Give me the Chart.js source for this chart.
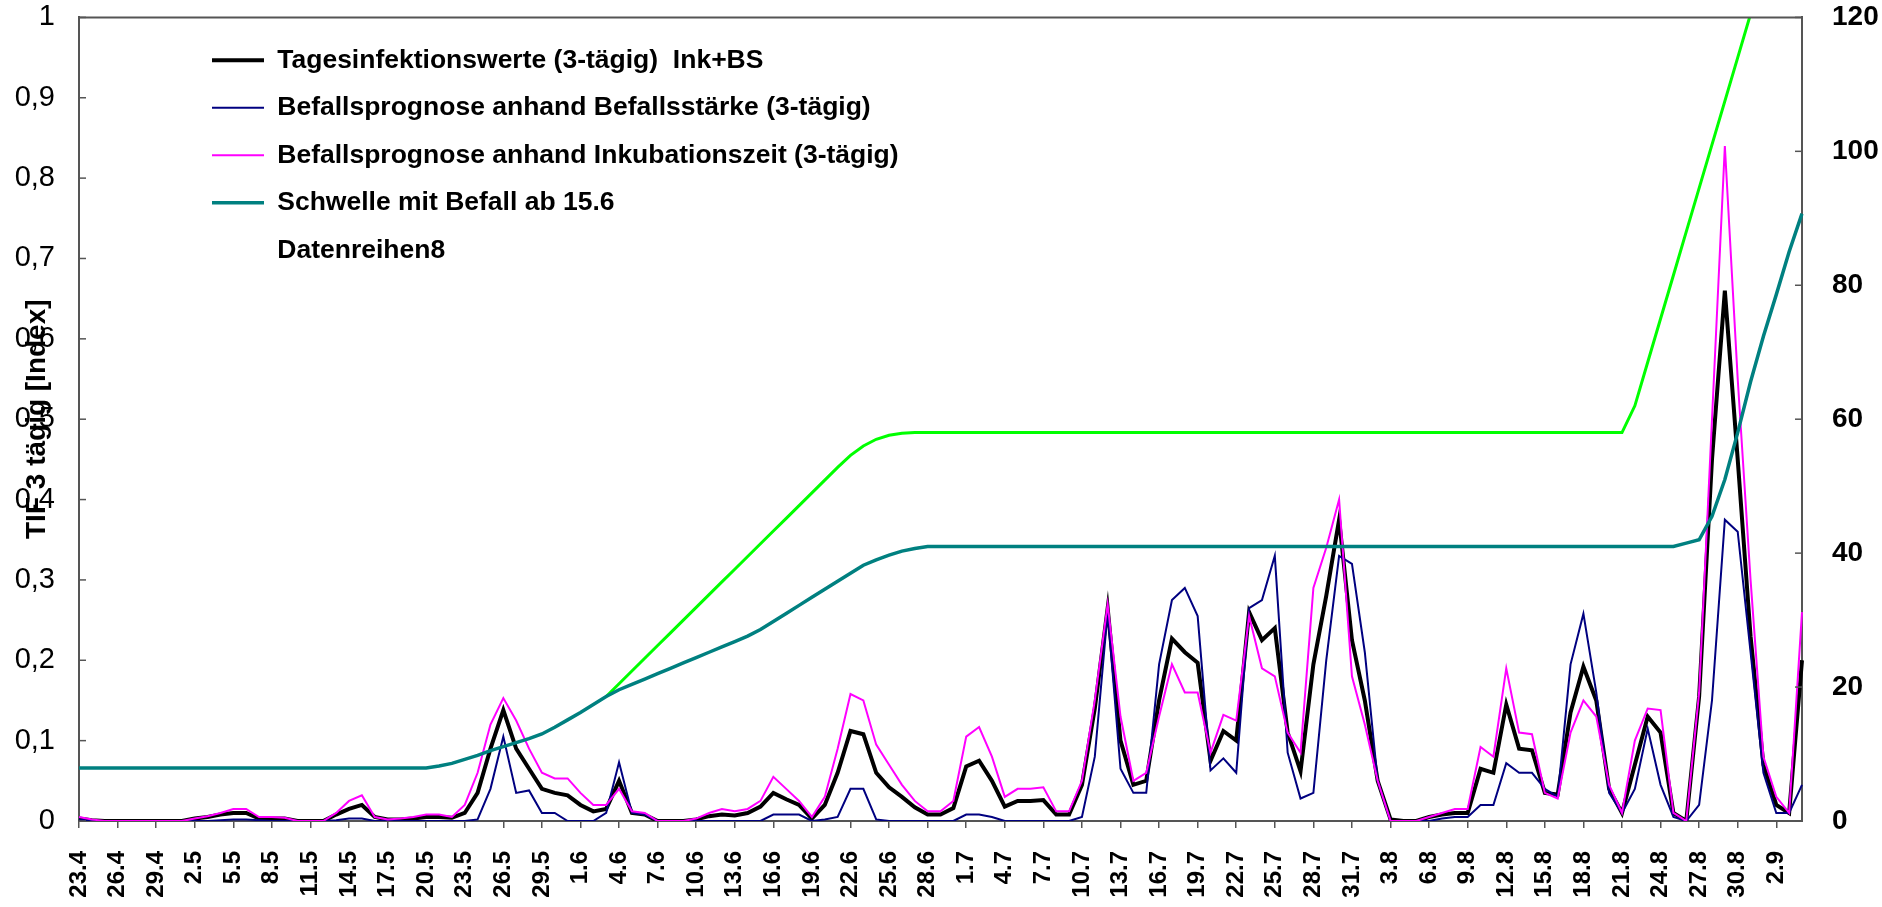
<!DOCTYPE html>
<html>
<head>
<meta charset="utf-8">
<script src="https://cdn.jsdelivr.net/npm/chart.js@4"></script>
<style>
html,body{margin:0;padding:0;background:#ffffff;}
#wrap{width:1882px;height:907px;position:relative;}
</style>
</head>
<body>
<div id="wrap"><canvas id="c" width="1882" height="907"></canvas></div>
<script>
// ---------- DATA ----------
const categories = [
 '23.4','24.4','25.4','26.4','27.4','28.4','29.4','30.4',
 '1.5','2.5','3.5','4.5','5.5','6.5','7.5','8.5','9.5','10.5','11.5','12.5','13.5','14.5','15.5','16.5','17.5','18.5','19.5','20.5','21.5','22.5','23.5','24.5','25.5','26.5','27.5','28.5','29.5','30.5','31.5',
 '1.6','2.6','3.6','4.6','5.6','6.6','7.6','8.6','9.6','10.6','11.6','12.6','13.6','14.6','15.6','16.6','17.6','18.6','19.6','20.6','21.6','22.6','23.6','24.6','25.6','26.6','27.6','28.6','29.6','30.6',
 '1.7','2.7','3.7','4.7','5.7','6.7','7.7','8.7','9.7','10.7','11.7','12.7','13.7','14.7','15.7','16.7','17.7','18.7','19.7','20.7','21.7','22.7','23.7','24.7','25.7','26.7','27.7','28.7','29.7','30.7','31.7',
 '1.8','2.8','3.8','4.8','5.8','6.8','7.8','8.8','9.8','10.8','11.8','12.8','13.8','14.8','15.8','16.8','17.8','18.8','19.8','20.8','21.8','22.8','23.8','24.8','25.8','26.8','27.8','28.8','29.8','30.8','31.8',
 '1.9','2.9','3.9','4.9'
];

// Tagesinfektionswerte (3-tägig) Ink+BS  (left axis)
const tagesinfektion = [
 0.003,0.001,0,0,0,0,0,0,0,0.003,
 0.005,0.008,0.01,0.01,0.003,0.003,0.003,0,0,0,
 0.008,0.015,0.02,0.005,0.002,0.002,0.003,0.005,0.005,0.004,
 0.01,0.035,0.09,0.138,0.09,0.065,0.04,0.035,0.032,0.02,
 0.012,0.015,0.05,0.01,0.008,0,0,0,0.002,0.006,
 0.008,0.007,0.01,0.018,0.035,0.027,0.02,0.003,0.02,0.06,
 0.112,0.108,0.06,0.042,0.03,0.017,0.008,0.008,0.016,0.068,
 0.075,0.05,0.018,0.025,0.025,0.026,0.008,0.008,0.045,0.14,
 0.265,0.1,0.045,0.05,0.15,0.227,0.21,0.197,0.075,0.112,
 0.1,0.26,0.225,0.24,0.11,0.062,0.195,0.28,0.375,0.225,
 0.15,0.05,0.002,0,0,0.005,0.008,0.01,0.01,0.065,
 0.06,0.145,0.09,0.088,0.035,0.033,0.135,0.192,0.15,0.04,
 0.01,0.07,0.13,0.11,0.01,0,0.155,0.45,0.66,0.45,
 0.23,0.07,0.02,0.01,0.2
];

// Befallsprognose anhand Befallsstärke (3-tägig)  (left axis)
const befallStaerke = [
 0.002,0,0,0,0,0,0,0,0,0,
 0,0.001,0.002,0.002,0.001,0,0,0,0,0,
 0.001,0.003,0.003,0,0,0,0,0,0,0,
 0,0.002,0.04,0.105,0.035,0.038,0.01,0.01,0,0,
 0,0.01,0.073,0.01,0.008,0,0,0,0,0,
 0,0,0,0,0.008,0.008,0.008,0,0.002,0.005,
 0.04,0.04,0.002,0,0,0,0,0,0,0.008,
 0.008,0.005,0,0,0,0,0,0,0.005,0.08,
 0.26,0.065,0.035,0.035,0.195,0.275,0.29,0.255,0.063,0.078,
 0.06,0.265,0.275,0.33,0.085,0.028,0.035,0.2,0.33,0.32,
 0.21,0.05,0,0,0,0,0.003,0.005,0.005,0.02,
 0.02,0.072,0.06,0.06,0.04,0.03,0.195,0.258,0.16,0.035,
 0.01,0.04,0.115,0.045,0.005,0,0.02,0.15,0.375,0.36,
 0.21,0.06,0.01,0.01,0.045
];

// Befallsprognose anhand Inkubationszeit (3-tägig)  (left axis)
const befallInkubation = [
 0.005,0.002,0,0,0,0,0,0,0,0.003,
 0.006,0.01,0.015,0.015,0.005,0.005,0.004,0,0,0,
 0.01,0.025,0.032,0.005,0.002,0.003,0.005,0.008,0.008,0.005,
 0.02,0.06,0.12,0.153,0.125,0.09,0.06,0.053,0.053,0.035,
 0.02,0.02,0.04,0.012,0.01,0,0,0,0.003,0.01,
 0.015,0.012,0.015,0.025,0.055,0.04,0.025,0.005,0.03,0.09,
 0.158,0.15,0.095,0.07,0.045,0.025,0.012,0.012,0.025,0.105,
 0.117,0.08,0.03,0.04,0.04,0.042,0.012,0.012,0.05,0.15,
 0.27,0.13,0.05,0.06,0.13,0.195,0.16,0.16,0.085,0.132,
 0.125,0.255,0.19,0.18,0.11,0.085,0.29,0.34,0.4,0.18,
 0.12,0.05,0,0,0,0.005,0.01,0.015,0.015,0.092,
 0.08,0.19,0.11,0.108,0.035,0.028,0.11,0.15,0.13,0.045,
 0.01,0.1,0.14,0.138,0.01,0,0.16,0.5,0.84,0.55,
 0.3,0.08,0.03,0.01,0.26
];

// Schwelle mit Befall ab 15.6  (right axis)
const schwelle = [
 7.9,7.9,7.9,7.9,7.9,7.9,7.9,7.9,7.9,7.9,
 7.9,7.9,7.9,7.9,7.9,7.9,7.9,7.9,7.9,7.9,
 7.9,7.9,7.9,7.9,7.9,7.9,7.9,7.9,8.2,8.6,
 9.2,9.8,10.5,11.1,11.7,12.3,13.0,14.0,15.1,16.2,
 17.4,18.6,19.6,20.4,21.2,22.0,22.8,23.6,24.4,25.2,
 26.0,26.8,27.6,28.6,29.8,31.0,32.2,33.4,34.6,35.8,
 37.0,38.2,39.0,39.7,40.3,40.7,41,41,41,41,
 41,41,41,41,41,41,41,41,41,41,
 41,41,41,41,41,41,41,41,41,41,
 41,41,41,41,41,41,41,41,41,41,
 41,41,41,41,41,41,41,41,41,41,
 41,41,41,41,41,41,41,41,41,41,
 41,41,41,41,41,41.5,42,45.5,51,58,
 65.6,72.4,78.6,85,90.7
];

// green threshold line (right axis, not in legend)
const schwelleGruen = [
 null,null,null,null,null,null,null,null,null,null,
 null,null,null,null,null,null,null,null,null,null,
 null,null,null,null,null,null,null,null,null,null,
 null,null,null,null,null,null,null,null,null,null,
 null,18.6,20.5,22.4,24.3,26.2,28.1,30.0,31.9,33.8,
 35.7,37.6,39.5,41.4,43.3,45.2,47.1,49.0,50.9,52.8,
 54.6,56.0,57.0,57.6,57.9,58,58,58,58,58,
 58,58,58,58,58,58,58,58,58,58,
 58,58,58,58,58,58,58,58,58,58,
 58,58,58,58,58,58,58,58,58,58,
 58,58,58,58,58,58,58,58,58,58,
 58,58,58,58,58,58,58,58,58,58,
 58,62,68.5,75,81.5,88,94.5,101,107.5,114,
 120.5,127,133.5,140,146.5
];

// series 8 (empty, only in legend)
const datenreihen8 = categories.map(() => null);

const leftTicks = { min: 0, max: 1, step: 0.1 };
const rightTicks = { min: 0, max: 120, step: 20 };

// ---------- PLUGINS ----------
const AXIS = '#555555';
const legendShift = {
  id: 'legendShift',
  afterLayout(chart) {
    const l = chart.legend;
    if (!l) return;
    const dx = 112, dy = 26;
    l.left += dx; l.right += dx; l.top += dy; l.bottom += dy;
  }
};
const frameAndTicks = {
  id: 'frameAndTicks',
  afterDatasetsDraw(chart) {
    const {ctx, chartArea: a} = chart;
    ctx.save();
    ctx.strokeStyle = AXIS;
    ctx.lineWidth = 2;
    ctx.beginPath();
    ctx.moveTo(a.left - 1, a.top);
    ctx.lineTo(a.right + 1, a.top);
    ctx.stroke();
    ctx.lineWidth = 1.5;
    ['y', 'y2'].forEach((id) => {
      const s = chart.scales[id];
      const left = s.position === 'left';
      const x0 = left ? s.right : s.left;
      const dir = left ? 1 : -1;
      s.ticks.forEach((t, i) => {
        const y = s.getPixelForTick(i);
        ctx.beginPath();
        ctx.moveTo(x0, y);
        ctx.lineTo(x0 + dir * 7, y);
        ctx.stroke();
      });
    });
    ctx.restore();
  }
};

const FONT = "'Liberation Sans', Arial, sans-serif";

new Chart(document.getElementById('c'), {
  type: 'line',
  data: {
    labels: categories,
    datasets: [
      { label: 'Tagesinfektionswerte (3-tägig)  Ink+BS', data: tagesinfektion, borderColor: '#000000', backgroundColor: '#000000', borderWidth: 4, yAxisID: 'y', order: 6 },
      { label: 'Befallsprognose anhand Befallsstärke (3-tägig)', data: befallStaerke, borderColor: '#000080', backgroundColor: '#000080', borderWidth: 2, yAxisID: 'y', order: 5 },
      { label: 'Befallsprognose anhand Inkubationszeit (3-tägig)', data: befallInkubation, borderColor: '#FF00FF', backgroundColor: '#FF00FF', borderWidth: 2, yAxisID: 'y', order: 4 },
      { label: 'Schwelle mit Befall ab 15.6', data: schwelle, borderColor: '#008080', backgroundColor: '#008080', borderWidth: 3.5, yAxisID: 'y2', order: 2 },
      { label: 'Datenreihen8', data: datenreihen8, borderColor: '#FFFFFF', backgroundColor: '#FFFFFF', borderWidth: 2, yAxisID: 'y', order: 1 },
      { label: 'Schwelle (grün)', data: schwelleGruen, borderColor: '#00FF00', backgroundColor: '#00FF00', borderWidth: 3, yAxisID: 'y2', order: 3 }
    ]
  },
  options: {
    responsive: false,
    animation: false,
    devicePixelRatio: 1,
    layout: { padding: { top: 17, left: 0, right: 0, bottom: 0 } },
    elements: { point: { radius: 0, hoverRadius: 0 }, line: { tension: 0 } },
    plugins: {
      tooltip: { enabled: false },
      legend: {
        position: 'chartArea',
        align: 'start',
        labels: {
          usePointStyle: true,
          pointStyle: 'line',
          pointStyleWidth: 52,
          padding: 21,
          color: '#000000',
          font: { family: FONT, size: 26.5, weight: 'bold' },
          filter: (item) => item.datasetIndex !== 5,
          sort: (a, b) => a.datasetIndex - b.datasetIndex
        }
      }
    },
    scales: {
      x: {
        type: 'category',
        offset: false,
        grid: {
          drawOnChartArea: false,
          drawTicks: true,
          tickLength: 7,
          lineWidth: 1.5,
          color: (c) => (c.index % 3 === 0 ? AXIS : 'rgba(0,0,0,0)')
        },
        border: { display: true, color: AXIS, width: 2 },
        ticks: {
          autoSkip: false,
          maxRotation: 90,
          minRotation: 90,
          padding: 23,
          color: '#000000',
          font: { family: FONT, size: 24, weight: 'bold' },
          callback: (v, i) => (i % 3 === 0 ? categories[i] : '')
        },
        afterFit: (s) => { s.height = 86; }
      },
      y: {
        position: 'left',
        min: leftTicks.min,
        max: leftTicks.max,
        grid: { drawOnChartArea: false, drawTicks: true, tickLength: 24, color: 'rgba(0,0,0,0)' },
        border: { display: true, color: AXIS, width: 2 },
        ticks: {
          stepSize: leftTicks.step,
          padding: 0,
          color: '#000000',
          font: { family: FONT, size: 29 },
          callback: (v) => {
            if (Math.abs(v) < 1e-9) return '0';
            if (Math.abs(v - 1) < 1e-9) return '1';
            return v.toFixed(1).replace('.', ',');
          }
        },
        title: {
          display: true,
          text: 'TIF 3 tägig [Index]',
          color: '#000000',
          font: { family: FONT, size: 28, weight: 'bold' },
          padding: { top: 20, bottom: 0 }
        },
        afterFit: (s) => { s.width = 79; }
      },
      y2: {
        position: 'right',
        min: rightTicks.min,
        max: rightTicks.max,
        grid: { drawOnChartArea: false, drawTicks: true, tickLength: 30, color: 'rgba(0,0,0,0)' },
        border: { display: true, color: AXIS, width: 2 },
        ticks: {
          stepSize: rightTicks.step,
          padding: 0,
          color: '#000000',
          font: { family: FONT, size: 28, weight: 'bold' }
        },
        afterFit: (s) => { s.width = 80; }
      }
    }
  },
  plugins: [legendShift, frameAndTicks]
});
</script>
</body>
</html>
